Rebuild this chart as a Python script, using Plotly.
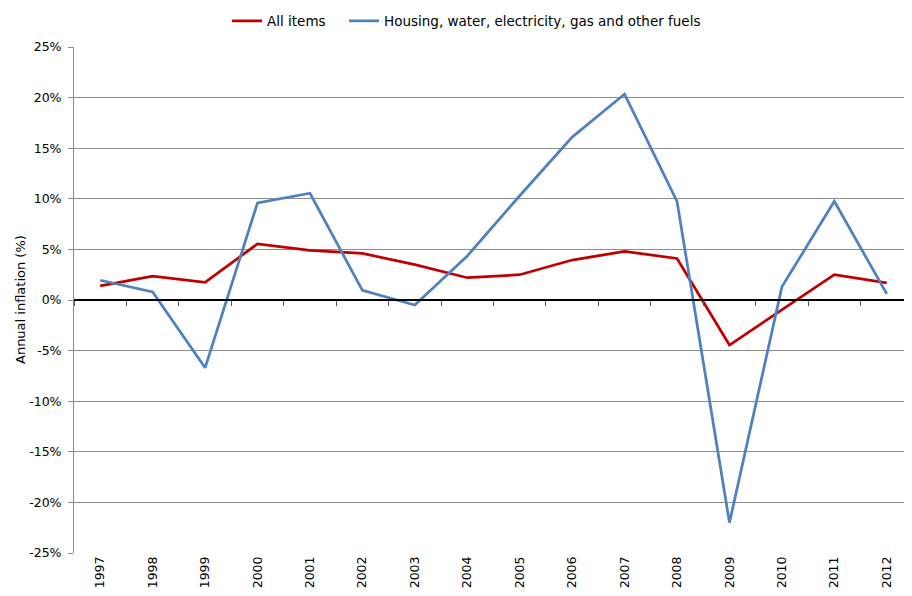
import plotly.graph_objects as go

years = [str(y) for y in range(1997, 2013)]
all_items = [1.4, 2.35, 1.75, 5.55, 4.9, 4.6, 3.5, 2.2, 2.5, 3.95, 4.8, 4.1, -4.45, -1.0, 2.5, 1.7]
housing = [1.95, 0.8, -6.7, 9.6, 10.55, 0.95, -0.5, 4.35, 10.3, 16.1, 20.35, 9.75, -22.0, 1.3, 9.75, 0.6]
y_ticks = [-25, -20, -15, -10, -5, 0, 5, 10, 15, 20, 25]
y_labels = [f"{v}%" for v in y_ticks]

font = "DejaVu Sans"
fig = go.Figure()
fig.add_trace(go.Scatter(x=years, y=all_items, mode="lines", name="All items",
                         line=dict(color="#C00000", width=2.75), legend="legend"))
fig.add_trace(go.Scatter(x=years, y=housing, mode="lines",
                         name="Housing, water, electricity, gas and other fuels",
                         line=dict(color="#4F81BD", width=2.75), legend="legend2"))
# invisible trace to draw the category axis at zero
fig.add_trace(go.Scatter(x=years, y=all_items, mode="lines", xaxis="x2",
                         line=dict(width=0, color="rgba(0,0,0,0)"),
                         showlegend=False, hoverinfo="skip"))

leg_common = dict(orientation="h", xref="container", xanchor="left",
                  y=1 - 13 / 596, yref="container", yanchor="middle",
                  font=dict(size=13.5), itemwidth=30, bgcolor="rgba(0,0,0,0)")

fig.update_layout(
    width=912, height=596,
    margin=dict(l=66, r=7, t=39, b=51),
    paper_bgcolor="white", plot_bgcolor="white",
    font=dict(family=font, size=12, color="#000000"),
    legend=dict(x=219 / 912, **leg_common),
    legend2=dict(x=336 / 912, **leg_common),
    xaxis=dict(type="category", categoryorder="array", categoryarray=years,
               range=[-0.5, 15.5], tickangle=-90, showgrid=False, zeroline=False,
               showline=False, ticks="", tickfont=dict(size=12.5, color="#000"),
               automargin=False),
    xaxis2=dict(type="category", categoryorder="array", categoryarray=years,
                overlaying="x", anchor="free", position=0.5, range=[-0.5, 15.5],
                showticklabels=False, showline=True, linecolor="#000", linewidth=1.5,
                ticks="outside", ticklen=5, tickcolor="#555", tickson="boundaries",
                showgrid=False, zeroline=False, automargin=False),
    yaxis=dict(range=[-25, 25], tickvals=y_ticks, ticktext=y_labels,
               showgrid=True, gridcolor="#8c8c8c", gridwidth=1, zeroline=False,
               showline=True, linecolor="#8c8c8c", linewidth=1, ticks="outside",
               ticklen=5, tickcolor="#8c8c8c", automargin=False, ticklabelstandoff=4,
               tickfont=dict(size=12.5, color="#000")),
    annotations=[dict(text="Annual inflation (%)", xref="paper", yref="paper",
                      x=0, y=0.5, xanchor="center", yanchor="middle", xshift=-54,
                      textangle=-90, showarrow=False, font=dict(size=13))],
)
fig.write_html("out.html")
